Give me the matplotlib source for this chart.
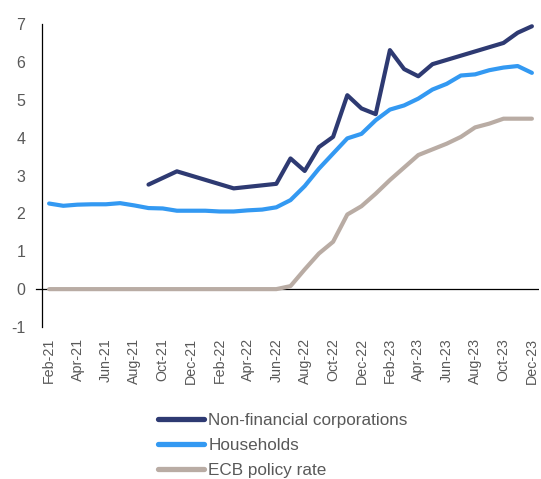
import matplotlib
matplotlib.use("Agg")
import matplotlib.pyplot as plt
import numpy as np

plt.rcParams['font.family'] = ['Liberation Sans', 'DejaVu Sans']

months = ["Feb-21", "Mar-21", "Apr-21", "May-21", "Jun-21", "Jul-21", "Aug-21", "Sep-21",
          "Oct-21", "Nov-21", "Dec-21", "Jan-22", "Feb-22", "Mar-22", "Apr-22", "May-22",
          "Jun-22", "Jul-22", "Aug-22", "Sep-22", "Oct-22", "Nov-22", "Dec-22", "Jan-23",
          "Feb-23", "Mar-23", "Apr-23", "May-23", "Jun-23", "Jul-23", "Aug-23", "Sep-23",
          "Oct-23", "Nov-23", "Dec-23"]

# Non-financial corporations (only months with data)
nfc_months = ["Sep-21", "Nov-21", "Mar-22", "Jun-22", "Jul-22", "Aug-22", "Sep-22", "Oct-22",
              "Nov-22", "Dec-22", "Jan-23", "Feb-23", "Mar-23", "Apr-23", "May-23",
              "Oct-23", "Nov-23", "Dec-23"]
nfc = [2.76, 3.11, 2.66, 2.78, 3.45, 3.12, 3.75, 4.02,
       5.12, 4.77, 4.62, 6.31, 5.81, 5.62, 5.94,
       6.50, 6.77, 6.94]

households = [2.26, 2.20, 2.23, 2.24, 2.24, 2.27, 2.21, 2.14, 2.13, 2.07, 2.07, 2.07,
              2.05, 2.05, 2.08, 2.10, 2.16, 2.35, 2.72, 3.18, 3.58, 3.98, 4.10, 4.46,
              4.74, 4.85, 5.03, 5.27, 5.42, 5.64, 5.67, 5.78, 5.85, 5.89, 5.71]

ecb = [0, 0, 0, 0, 0, 0, 0, 0, 0, 0, 0, 0,
       0, 0, 0, 0, 0, 0.08, 0.52, 0.94, 1.25, 1.97, 2.19, 2.52,
       2.88, 3.21, 3.54, 3.69, 3.84, 4.02, 4.27, 4.37, 4.50, 4.50, 4.50]

series_names = ["Non-financial corporations", "Households", "ECB policy rate"]
colors = ["#2E3A72", "#3399F2", "#B9ACA4"]

x_all = np.arange(len(months))
x_nfc = [months.index(m) for m in nfc_months]

fig = plt.figure(figsize=(5.41, 4.79), dpi=100)
ax = fig.add_axes([42/541, 1-327/479, (539-42)/541, (327-24)/479])

lw = 3.0
ax.plot(x_nfc, nfc, color=colors[0], lw=lw, solid_capstyle='round', solid_joinstyle='round', label=series_names[0], zorder=4)
ax.plot(x_all, households, color=colors[1], lw=lw, solid_capstyle='round', solid_joinstyle='round', label=series_names[1], zorder=3)
ax.plot(x_all, ecb, color=colors[2], lw=lw, solid_capstyle='round', solid_joinstyle='round', label=series_names[2], zorder=2)

ax.set_xlim(-0.5, len(months) - 0.5)
ax.set_ylim(-1, 7)
ax.axhline(0, color='black', lw=0.9, zorder=1)
ax.plot([-0.9, -0.5], [0, 0], color='black', lw=0.9, clip_on=False)

for s in ['top', 'right', 'bottom']:
    ax.spines[s].set_visible(False)
ax.spines['left'].set_color('black')
ax.spines['left'].set_linewidth(0.9)

ax.set_yticks(range(-1, 8))
ax.set_yticklabels([str(v) for v in range(-1, 8)])
ax.tick_params(axis='y', length=0, pad=12, labelsize=11.5, labelcolor='#595959')

ax.set_xticks(x_all[::2])
ax.set_xticklabels(months[::2], rotation=90, fontsize=10.3, color='#595959')
ax.tick_params(axis='x', length=0, pad=8)

leg = fig.legend(loc='upper left', bbox_to_anchor=(158/541, 1-413/479), frameon=False,
                 prop={'size': 12.3}, handlelength=2.7, handletextpad=0.25, labelspacing=0.58,
                 borderpad=0, borderaxespad=0)
for t in leg.get_texts():
    t.set_color('#595959')
for h in leg.get_lines():
    h.set_linewidth(3.8)

fig.savefig("out.png", dpi=100)
